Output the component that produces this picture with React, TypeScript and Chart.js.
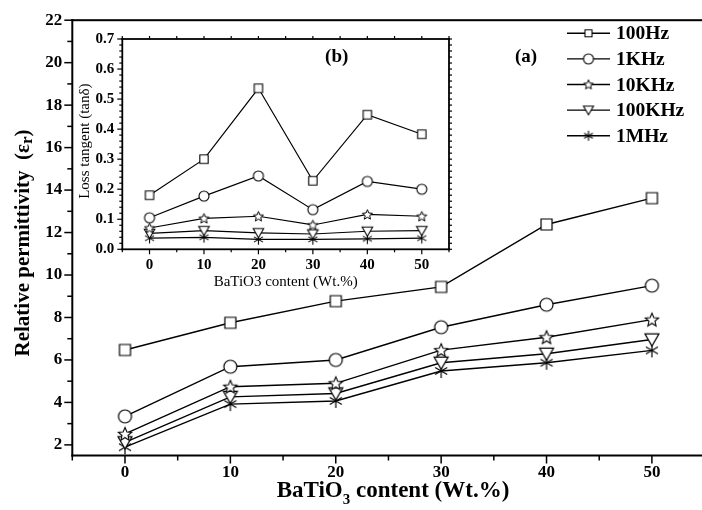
import React, { useEffect, useRef } from "react";
import { Chart, registerables } from "chart.js";

Chart.register(...registerables);

// ---------- data ----------
const contents = [0, 10, 20, 30, 40, 50];
const seriesNames = ["100Hz", "1KHz", "10KHz", "100KHz", "1MHz"];

const perm100Hz = [6.47, 7.75, 8.77, 9.44, 12.38, 13.62];
const perm1KHz = [3.34, 5.68, 6.0, 7.54, 8.6, 9.5];
const perm10KHz = [2.52, 4.74, 4.9, 6.46, 7.07, 7.9];
const perm100KHz = [2.12, 4.26, 4.42, 5.87, 6.29, 6.96];
const perm1MHz = [1.89, 3.92, 4.07, 5.48, 5.87, 6.45];

const tan100Hz = [0.18, 0.3, 0.536, 0.228, 0.448, 0.383];
const tan1KHz = [0.105, 0.177, 0.244, 0.132, 0.226, 0.2];
const tan10KHz = [0.071, 0.103, 0.11, 0.081, 0.116, 0.11];
const tan100KHz = [0.053, 0.062, 0.055, 0.051, 0.06, 0.062];
const tan1MHz = [0.037, 0.04, 0.033, 0.033, 0.035, 0.037];

const mainYTicks = [2, 4, 6, 8, 10, 12, 14, 16, 18, 20, 22];
const insetYTicks = [0, 0.1, 0.2, 0.3, 0.4, 0.5, 0.6, 0.7];
const xTickValues = [0, 10, 20, 30, 40, 50];

const SERIF = "'Liberation Serif', 'Times New Roman', serif";

// ---------- marker images ----------
function makeMarker(type: string, size: number, lw = 1.2): HTMLCanvasElement {
  const pad = 2;
  const dim = Math.ceil(size + pad * 2);
  const c = document.createElement("canvas");
  c.width = dim;
  c.height = dim;
  const ctx = c.getContext("2d")!;
  ctx.translate(dim / 2, dim / 2);
  ctx.lineWidth = lw;
  ctx.strokeStyle = "#000";
  ctx.fillStyle = "#fff";
  const r = size / 2;
  ctx.beginPath();
  if (type === "square") {
    const s = size * 0.88;
    ctx.rect(-s / 2, -s / 2, s, s);
  } else if (type === "circle") {
    ctx.arc(0, 0, r, 0, Math.PI * 2);
  } else if (type === "star") {
    for (let i = 0; i < 10; i++) {
      const ang = -Math.PI / 2 + (i * Math.PI) / 5;
      const rad = i % 2 === 0 ? r : r * 0.45;
      const px = Math.cos(ang) * rad;
      const py = Math.sin(ang) * rad + r * 0.08;
      if (i === 0) ctx.moveTo(px, py);
      else ctx.lineTo(px, py);
    }
    ctx.closePath();
  } else if (type === "tri") {
    ctx.moveTo(-r, -r * 0.8);
    ctx.lineTo(r, -r * 0.8);
    ctx.lineTo(0, r * 0.95);
    ctx.closePath();
  } else if (type === "asterisk") {
    for (let k = 0; k < 3; k++) {
      const ang = -Math.PI / 2 + (k * Math.PI) / 3;
      ctx.moveTo(Math.cos(ang) * r, Math.sin(ang) * r);
      ctx.lineTo(-Math.cos(ang) * r, -Math.sin(ang) * r);
    }
  }
  if (type !== "asterisk") ctx.fill();
  ctx.stroke();
  return c;
}

function seg(ctx: CanvasRenderingContext2D, x1: number, y1: number, x2: number, y2: number) {
  ctx.beginPath();
  ctx.moveTo(x1, y1);
  ctx.lineTo(x2, y2);
  ctx.stroke();
}

// draws text pieces [text, size, dy] sequentially, centered at (cx, baseline)
function drawPieces(
  ctx: CanvasRenderingContext2D,
  pieces: [string, number, number][],
  weight: string,
  cx: number,
  baseY: number
) {
  let total = 0;
  for (const [t, s] of pieces) {
    ctx.font = `${weight} ${s}px ${SERIF}`;
    total += ctx.measureText(t).width;
  }
  let xx = cx - total / 2;
  ctx.textAlign = "left";
  ctx.textBaseline = "alphabetic";
  for (const [t, s, dy] of pieces) {
    ctx.font = `${weight} ${s}px ${SERIF}`;
    ctx.fillText(t, xx, baseY + dy);
    xx += ctx.measureText(t).width;
  }
}

export default function App() {
  const mainRef = useRef<HTMLCanvasElement | null>(null);
  const insetRef = useRef<HTMLCanvasElement | null>(null);

  useEffect(() => {
    const mainMarkers = [
      makeMarker("square", 12.5, 1.2),
      makeMarker("circle", 13, 1.2),
      makeMarker("star", 14, 1.1),
      makeMarker("tri", 14, 1.2),
      makeMarker("asterisk", 14, 1.2),
    ];
    const insetMarkers = [
      makeMarker("square", 9.5, 1.1),
      makeMarker("circle", 10, 1.1),
      makeMarker("star", 10.5, 1.0),
      makeMarker("tri", 10.5, 1.1),
      makeMarker("asterisk", 10.5, 1.1),
    ];
    const legendMarkers = [
      makeMarker("square", 8, 1.1),
      makeMarker("circle", 10, 1.1),
      makeMarker("star", 10, 1.0),
      makeMarker("tri", 10, 1.1),
      makeMarker("asterisk", 10, 1.1),
    ];

    const permSeries = [perm100Hz, perm1KHz, perm10KHz, perm100KHz, perm1MHz];
    const tanSeries = [tan100Hz, tan1KHz, tan10KHz, tan100KHz, tan1MHz];

    const tickFont = (size: number) => ({ family: SERIF, size, weight: "bold" as const });

    const mainPlugin = {
      id: "mainDecor",
      afterDraw(chart: any) {
        const { ctx, chartArea: a } = chart;
        const x = chart.scales.x;
        const y = chart.scales.y;
        ctx.save();
        ctx.setLineDash([]);
        ctx.strokeStyle = "#000";
        ctx.fillStyle = "#000";
        // axis lines as filled rectangles
        ctx.fillRect(a.left - 1, a.top - 1, 2, a.bottom - a.top + 2);
        ctx.fillRect(a.left - 1, a.bottom - 1, a.right - a.left + 4, 2);
        ctx.fillRect(a.left - 1, a.top - 1, a.right - a.left + 4, 2);
        ctx.lineWidth = 1.5;
        for (let v = 2; v <= 22; v++) {
          const yy = y.getPixelForValue(v);
          const len = v % 2 === 0 ? 8 : 5;
          seg(ctx, a.left - len, yy, a.left, yy);
        }
        for (let v = -5; v <= 55; v += 5) {
          const xx = x.getPixelForValue(v);
          const len = v % 10 === 0 ? 8 : 5;
          seg(ctx, xx, a.bottom, xx, a.bottom + len);
        }
        // axis titles
        drawPieces(
          ctx,
          [
            ["BaTiO", 23, 0],
            ["3", 15, 7],
            [" content (Wt.%)", 23, 0],
          ],
          "bold",
          393,
          497
        );
        ctx.save();
        ctx.translate(29, 243);
        ctx.rotate(-Math.PI / 2);
        drawPieces(
          ctx,
          [
            ["Relative permittivity  (\u03b5", 21, 0],
            ["r", 17, 3],
            [")", 21, 0],
          ],
          "bold",
          0,
          0
        );
        ctx.restore();
        // (a)
        ctx.font = `bold 19px ${SERIF}`;
        ctx.textAlign = "center";
        ctx.textBaseline = "middle";
        ctx.fillText("(a)", 526, 57);
        // legend
        ctx.lineWidth = 1.4;
        for (let i = 0; i < seriesNames.length; i++) {
          const ly = 33.3 + i * 25.6;
          seg(ctx, 567, ly, 610, ly);
          const m = legendMarkers[i];
          ctx.drawImage(m, 588.5 - m.width / 2, ly - m.height / 2);
          ctx.font = `bold 19.5px ${SERIF}`;
          ctx.textAlign = "left";
          ctx.textBaseline = "middle";
          ctx.fillText(seriesNames[i], 616, ly + 1);
        }
        ctx.restore();
      },
    };

    const mainChart = new Chart(mainRef.current!, {
      type: "line",
      data: {
        datasets: permSeries.map((d, i) => ({
          label: seriesNames[i],
          data: contents.map((c, j) => ({ x: c, y: d[j] })),
          borderColor: "#000",
          borderWidth: 1.4,
          pointStyle: mainMarkers[i] as any,
          pointRadius: 6,
          tension: 0,
          fill: false,
        })),
      },
      options: {
        animation: false,
        responsive: false,
        devicePixelRatio: 1,
        events: [],
        layout: { padding: { top: 17.5, right: 0.7, left: 0, bottom: 0 } },
        plugins: { legend: { display: false }, tooltip: { enabled: false } },
        scales: {
          x: {
            type: "linear",
            min: -5,
            max: 55,
            grid: { display: false, drawTicks: false },
            border: { display: false },
            afterBuildTicks: (s: any) => {
              s.ticks = xTickValues.map((v) => ({ value: v }));
            },
            ticks: { font: tickFont(17), color: "#000", padding: 7, maxRotation: 0, autoSkip: false },
            afterFit: (s: any) => {
              s.height = 54.5;
            },
          },
          y: {
            type: "linear",
            min: 1.5,
            max: 22,
            grid: { display: false, drawTicks: false },
            border: { display: false },
            afterBuildTicks: (s: any) => {
              s.ticks = mainYTicks.map((v) => ({ value: v }));
            },
            ticks: { font: tickFont(17), color: "#000", padding: 10, autoSkip: false },
            afterFit: (s: any) => {
              s.width = 72.3;
            },
          },
        },
      } as any,
      plugins: [mainPlugin],
    });

    const insetPlugin = {
      id: "insetDecor",
      afterDraw(chart: any) {
        const { ctx, chartArea: a } = chart;
        const x = chart.scales.x;
        const y = chart.scales.y;
        ctx.save();
        ctx.setLineDash([]);
        ctx.strokeStyle = "#000";
        ctx.fillStyle = "#000";
        const t = 1.8;
        ctx.fillRect(a.left - t / 2, a.top - t / 2, a.right - a.left + t, t);
        ctx.fillRect(a.left - t / 2, a.bottom - t / 2, a.right - a.left + t, t);
        ctx.fillRect(a.left - t / 2, a.top - t / 2, t, a.bottom - a.top + t);
        ctx.fillRect(a.right - t / 2, a.top - t / 2, t, a.bottom - a.top + t);
        ctx.lineWidth = 1.2;
        for (let k = 0; k <= 35; k++) {
          const v = k * 0.02;
          const yy = y.getPixelForValue(v);
          const major = k % 5 === 0;
          seg(ctx, a.left - (major ? 5 : 3), yy, a.left, yy);
          seg(ctx, a.right, yy, a.right + 3, yy);
        }
        for (let v = -5; v <= 55; v += 5) {
          const xx = x.getPixelForValue(v);
          const major = v % 10 === 0;
          seg(ctx, xx, a.bottom, xx, a.bottom + (major ? 5 : 3));
          seg(ctx, xx, a.top - 3, xx, a.top);
        }
        // titles (inset canvas coordinates; canvas sits at page (74, 22))
        ctx.font = `15px ${SERIF}`;
        ctx.textAlign = "center";
        ctx.textBaseline = "alphabetic";
        ctx.fillText("BaTiO3 content (Wt.%)", (a.left + a.right) / 2, 286 - 22);
        ctx.save();
        ctx.translate(89 - 74, (a.top + a.bottom) / 2 - 3);
        ctx.rotate(-Math.PI / 2);
        ctx.font = `15px ${SERIF}`;
        ctx.textAlign = "center";
        ctx.fillText("Loss tangent (tan\u03b4)", 0, 0);
        ctx.restore();
        ctx.font = `bold 19px ${SERIF}`;
        ctx.textAlign = "center";
        ctx.textBaseline = "middle";
        ctx.fillText("(b)", 336.7 - 74, 57 - 22);
        ctx.restore();
      },
    };

    const insetChart = new Chart(insetRef.current!, {
      type: "line",
      data: {
        datasets: tanSeries.map((d, i) => ({
          label: seriesNames[i],
          data: contents.map((c, j) => ({ x: c, y: d[j] })),
          borderColor: "#000",
          borderWidth: 1.2,
          pointStyle: insetMarkers[i] as any,
          pointRadius: 5,
          tension: 0,
          fill: false,
        })),
      },
      options: {
        animation: false,
        responsive: false,
        devicePixelRatio: 1,
        events: [],
        layout: { padding: { top: 9.5, right: 11, left: 0, bottom: 0 } },
        plugins: { legend: { display: false }, tooltip: { enabled: false } },
        scales: {
          x: {
            type: "linear",
            min: -5,
            max: 55,
            grid: { display: false, drawTicks: false },
            border: { display: false },
            afterBuildTicks: (s: any) => {
              s.ticks = xTickValues.map((v) => ({ value: v }));
            },
            ticks: { font: tickFont(15), color: "#000", padding: 7, maxRotation: 0, autoSkip: false },
            afterFit: (s: any) => {
              s.height = 44.7;
            },
          },
          y: {
            type: "linear",
            min: 0,
            max: 0.7,
            grid: { display: false, drawTicks: false },
            border: { display: false },
            afterBuildTicks: (s: any) => {
              s.ticks = insetYTicks.map((v) => ({ value: v }));
            },
            ticks: {
              font: tickFont(15),
              color: "#000",
              padding: 8,
              autoSkip: false,
              callback: (v: any) => Number(v).toFixed(1),
            },
            afterFit: (s: any) => {
              s.width = 48.3;
            },
          },
        },
      } as any,
      plugins: [insetPlugin],
    });

    return () => {
      mainChart.destroy();
      insetChart.destroy();
    };
  }, []);

  return (
    <div
      style={{
        position: "absolute",
        left: 0,
        top: 0,
        width: 702,
        height: 510,
        overflow: "hidden",
        background: "#fff",
      }}
    >
      <canvas
        ref={mainRef}
        width={712}
        height={510}
        style={{ position: "absolute", left: 0, top: 0, width: 712, height: 510, display: "block" }}
      />
      <canvas
        ref={insetRef}
        width={386}
        height={272}
        style={{ position: "absolute", left: 74, top: 22, width: 386, height: 272, display: "block" }}
      />
    </div>
  );
}
